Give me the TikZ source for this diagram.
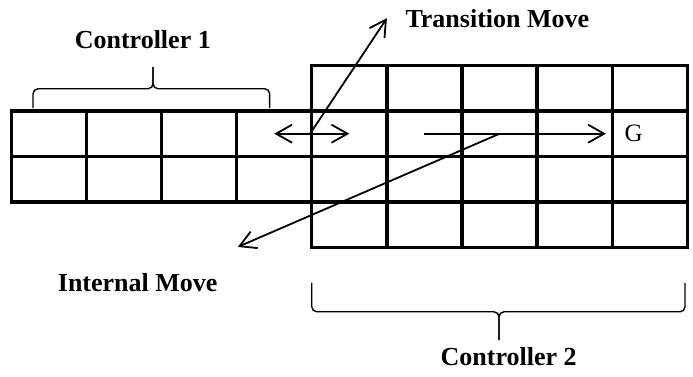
\documentclass[tikz,border=0pt]{standalone}
\usepackage{fontspec}
\setmainfont{Liberation Serif}
\usetikzlibrary{arrows.meta, positioning}

\begin{document}
\begin{tikzpicture}[cellStyle/.style={rectangle, draw, line width=1.7pt, minimum width=1.32cm, minimum height=0.8cm, inner sep=0pt}, moveStyle/.style={line width=0.9pt}, braceStyle/.style={line width=0.7pt, rounded corners=2.5pt}, labelStyle/.style={font=\fontsize{13}{15}\selectfont\bfseries, inner sep=0pt}, goalStyle/.style={font=\fontsize{12.5}{15}\selectfont, inner sep=0pt}, >={Straight Barb[length=8pt, width=9pt]}]
                    \useasboundingbox (-5.48, -3.06) rectangle (6.70, 3.55);

                    \node[cellStyle] (L1_1) at (-4.62, 1.2) {};
                    \node[cellStyle] (L1_2) at (-3.30, 1.2) {};
                    \node[cellStyle] (L1_3) at (-1.98, 1.2) {};
                    \node[cellStyle] (L1_4) at (-0.66, 1.2) {};
                    \node[cellStyle] (L2_1) at (-4.62, 0.4) {};
                    \node[cellStyle] (L2_2) at (-3.30, 0.4) {};
                    \node[cellStyle] (L2_3) at (-1.98, 0.4) {};
                    \node[cellStyle] (L2_4) at (-0.66, 0.4) {};

                    \node[cellStyle] (R1_1) at ( 0.66,  2.0) {};
                    \node[cellStyle] (R1_2) at ( 1.98,  2.0) {};
                    \node[cellStyle] (R1_3) at ( 3.30,  2.0) {};
                    \node[cellStyle] (R1_4) at ( 4.62,  2.0) {};
                    \node[cellStyle] (R1_5) at ( 5.94,  2.0) {};
                    \node[cellStyle] (R2_1) at ( 0.66,  1.2) {};
                    \node[cellStyle] (R2_2) at ( 1.98,  1.2) {};
                    \node[cellStyle] (R2_3) at ( 3.30,  1.2) {};
                    \node[cellStyle] (R2_4) at ( 4.62,  1.2) {};
                    \node[cellStyle] (R2_5) at ( 5.94,  1.2) {};
                    \node[cellStyle] (R3_1) at ( 0.66,  0.4) {};
                    \node[cellStyle] (R3_2) at ( 1.98,  0.4) {};
                    \node[cellStyle] (R3_3) at ( 3.30,  0.4) {};
                    \node[cellStyle] (R3_4) at ( 4.62,  0.4) {};
                    \node[cellStyle] (R3_5) at ( 5.94,  0.4) {};
                    \node[cellStyle] (R4_1) at ( 0.66, -0.4) {};
                    \node[cellStyle] (R4_2) at ( 1.98, -0.4) {};
                    \node[cellStyle] (R4_3) at ( 3.30, -0.4) {};
                    \node[cellStyle] (R4_4) at ( 4.62, -0.4) {};
                    \node[cellStyle] (R4_5) at ( 5.94, -0.4) {};

                    \node[goalStyle, right=0.24cm of R2_5.west] (goal) {G};

                    \coordinate (trans_tip) at (1.32, 3.23);
                    \coordinate (int_tip)   at (-1.30, -0.79);
                    \node[labelStyle, right=0.32cm of trans_tip] (trans_label) {Transition Move};
                    \node[labelStyle] (int_label) at (-3.06, -1.42) {Internal Move};

                    \draw[moveStyle, <->] (L1_4.center) -- (R2_1.center);
                    \draw[moveStyle, ->] (R2_1.west) -- (trans_tip);
                    \draw[moveStyle, ->] (R2_2.center) -- ([xshift=-0.08cm]R2_5.west);
                    \draw[moveStyle, ->] (R2_3.center) -- (int_tip);

                    \draw[braceStyle] (-4.90, 1.65) -- (-4.90, 1.99) -- (-2.79, 1.99) -- (-2.79, 2.37);
                    \draw[braceStyle] (-0.74, 1.65) -- (-0.74, 1.99) -- (-2.79, 1.99) -- (-2.79, 2.37);
                    \node[labelStyle] (ctrl_1) at (-2.97, 2.85) {Controller 1};

                    \draw[braceStyle] (0, -1.42) -- (0, -1.93) -- (3.29, -1.93) -- (3.29, -2.43);
                    \draw[braceStyle] (6.56, -1.42) -- (6.56, -1.93) -- (3.29, -1.93) -- (3.29, -2.43);
                    \node[labelStyle] (ctrl_2) at (3.46, -2.72) {Controller 2};
                \end{tikzpicture}
\end{document}
